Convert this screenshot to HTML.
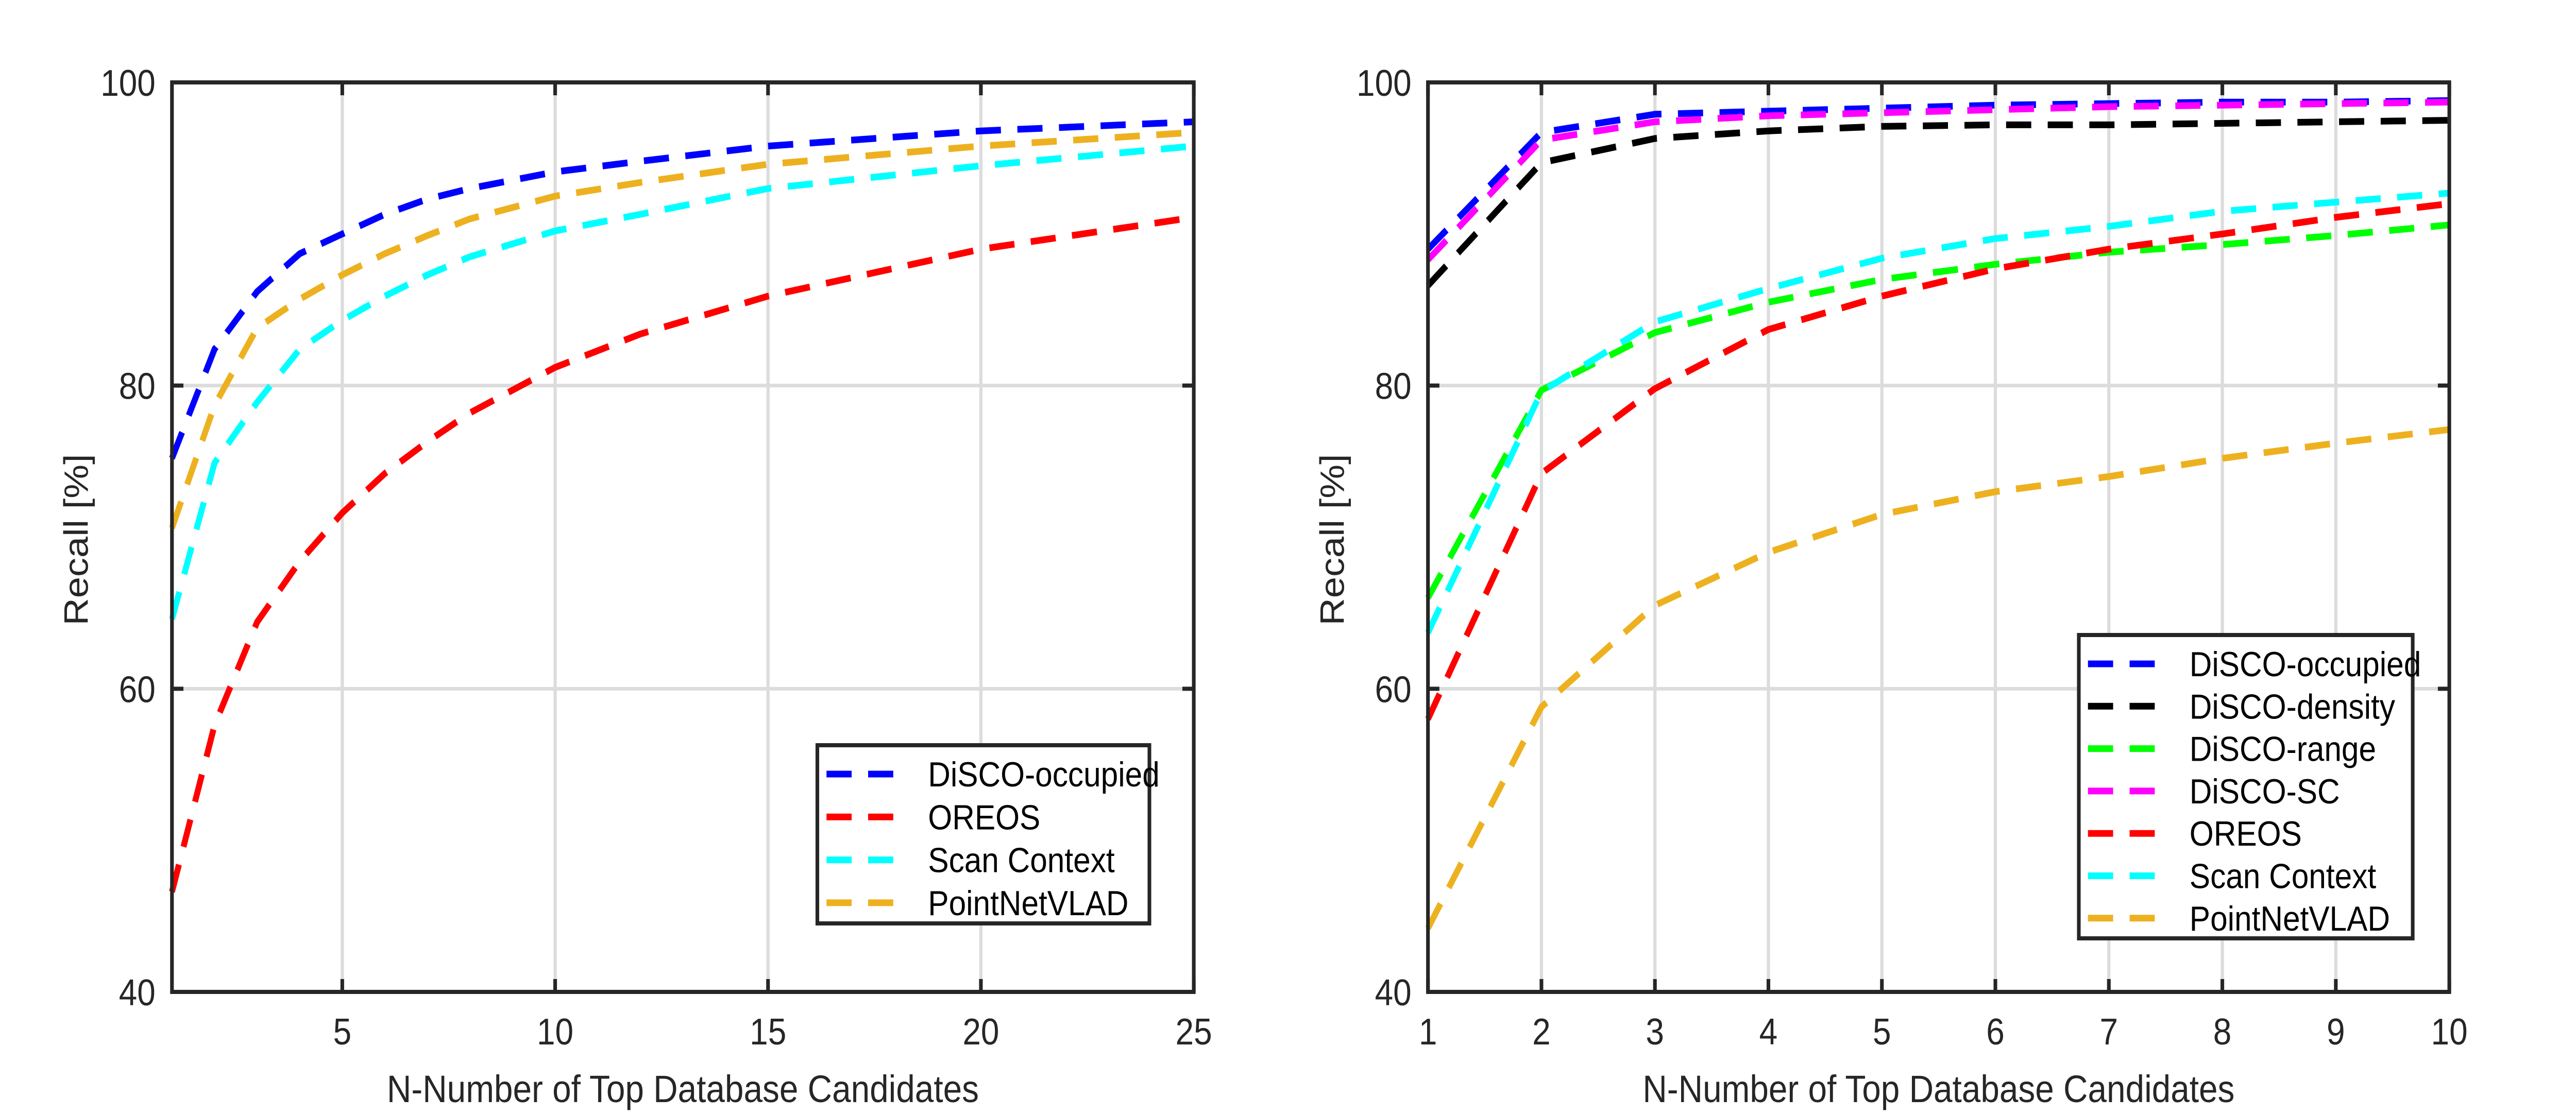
<!DOCTYPE html>
<html><head><meta charset="utf-8"><style>
html,body{margin:0;padding:0;background:#fff;width:100vw;height:100vh;overflow:hidden;}
svg{display:block;position:fixed;left:0;top:0;width:100vw;height:100vh;font-family:"Liberation Sans",Arial,sans-serif;}
</style></head><body>
<svg id="fig" viewBox="0 0 5632 2165" preserveAspectRatio="none" xmlns="http://www.w3.org/2000/svg"></svg>
<script>
// ---- Left chart data ----
const leftX = [1,2,3,4,5,6,7,8,10,12,15,20,25];
const leftDisco = [75.2,82.4,86.2,88.7,90,91.3,92.3,93,94.1,94.8,95.8,96.8,97.4];
const leftOreos = [46.6,57.6,64.4,68.4,71.6,74.2,76.3,78.2,81.2,83.4,85.9,89,91.1];
const leftScan = [64.6,74.9,78.9,82.4,84.3,85.9,87.3,88.5,90.2,91.3,93,94.5,95.8];
const leftPnv = [70.6,78.7,83.8,85.7,87.3,88.7,89.9,91,92.5,93.4,94.6,95.8,96.7];
const leftXTicks = [5,10,15,20,25];
const yTicks = [40,60,80,100];
// ---- Right chart data ----
const rightX = [1,2,3,4,5,6,7,8,9,10];
const rightOcc = [89,96.7,97.9,98.1,98.3,98.5,98.6,98.7,98.7,98.8];
const rightDen = [86.6,94.7,96.3,96.8,97.1,97.2,97.2,97.3,97.4,97.5];
const rightRange = [66,79.7,83.5,85.5,87,88,88.8,89.3,89.9,90.6];
const rightSC = [88.3,96.2,97.4,97.8,98,98.2,98.4,98.5,98.6,98.7];
const rightOreos = [58,74.2,79.8,83.7,85.9,87.7,89,90,91.1,92];
const rightScan = [63.7,79.6,84.2,86.4,88.4,89.7,90.5,91.5,92.1,92.7];
const rightPnv = [44.2,58.8,65.5,69,71.5,73,74,75.2,76.2,77.1];
const rightXTicks = [1,2,3,4,5,6,7,8,9,10];

const NS='http://www.w3.org/2000/svg';
const svg=document.getElementById('fig');
function mk(tag,attrs,parent){const e=document.createElementNS(NS,tag);for(const k in attrs)e.setAttribute(k,attrs[k]);(parent||svg).appendChild(e);return e;}

function chart(cfg){
  const g=mk('g',{});
  
  
  const L=cfg.left,R=cfg.right,T=160,B=1926;
  const sx=v=>L+(v-cfg.xmin)/(cfg.xmax-cfg.xmin)*(R-L);
  const sy=v=>B-(v-40)/60*(B-T);
  cfg.xticks.forEach(t=>{ if(t>cfg.xmin&&t<cfg.xmax){const l=mk('line',{x1:sx(t),x2:sx(t),y1:T,y2:B,stroke:'#dcdcdc','stroke-width':7},g);
    
    }});
  yTicks.forEach(t=>{ if(t>40&&t<100){const l=mk('line',{x1:L,x2:R,y1:sy(t),y2:sy(t),stroke:'#dcdcdc','stroke-width':7},g);
    
    }});
  cfg.series.forEach(s=>{
    const d=cfg.x.map((v,i)=>(i?'L':'M')+sx(v).toFixed(1)+' '+sy(s.v[i]).toFixed(1)).join(' ');
    const p=mk('path',{d:d,fill:'none',stroke:s.c,'stroke-width':13,'stroke-dasharray':'55 36','stroke-linejoin':'round'},g);
    
    
  });
  cfg.xticks.forEach(t=>{
    [[B,B-25],[T,T+25]].forEach(a=>{mk('line',{x1:sx(t),x2:sx(t),y1:a[0],y2:a[1],stroke:'#262626','stroke-width':8},g);});
    const tx=mk('text',{x:sx(t),y:2028,'font-size':72,fill:'#262626','text-anchor':'middle'},g);
    tx.textContent=t;
    
    
  });
  yTicks.forEach(t=>{
    [[L,L+25],[R,R-25]].forEach(a=>{mk('line',{x1:a[0],x2:a[1],y1:sy(t),y2:sy(t),stroke:'#262626','stroke-width':8},g);});
    const tx=mk('text',{x:L-36,y:sy(t)+26,'font-size':72,fill:'#262626','text-anchor':'end'},g);
    tx.textContent=t;
    
    
  });
  const box=mk('rect',{x:L,y:T,width:R-L,height:B-T,fill:'none',stroke:'#262626','stroke-width':8},g);
  
  
  const xt=mk('text',{x:(L+R)/2,y:2140,'font-size':74,fill:'#262626','text-anchor':'middle'},g);
  xt.textContent='N-Number of Top Database Candidates';
  
  
  const yt=mk('text',{x:0,y:0,'font-size':74,fill:'#262626','text-anchor':'middle',transform:'translate('+(cfg.ytx)+',1048) rotate(-90)'},g);
  yt.textContent='Recall [%]';
  
  
  const lg=mk('g',{},g);
  
  
  mk('rect',{x:cfg.lg[0],y:cfg.lg[1],width:cfg.lg[2],height:cfg.lg[3],fill:'#fff',stroke:'#262626','stroke-width':8},lg);
  cfg.series.forEach((s,i)=>{
    const y=cfg.lgY0+i*cfg.lgStep;
    const e=mk('g',{},lg);
    
    
    mk('line',{x1:cfg.lg[0]+20,x2:cfg.lg[0]+182,y1:y,y2:y,stroke:s.c,'stroke-width':13,'stroke-dasharray':'55 36'},e);
    const t=mk('text',{x:cfg.lg[0]+242,y:y+24,'font-size':68,fill:'#000'},e);
    t.textContent=s.label;
  });
}
chart({name:'left-chart',left:376,right:2610,xmin:1,xmax:25,x:leftX,xticks:leftXTicks,ytx:192,
  lg:[1787,1447,726,346],lgY0:1503,lgStep:83.3,
  series:[{id:'disco-occupied',label:'DiSCO-occupied',c:'#0000ff',v:leftDisco},
          {id:'oreos',label:'OREOS',c:'#ff0000',v:leftOreos},
          {id:'scan-context',label:'Scan Context',c:'#00ffff',v:leftScan},
          {id:'pointnetvlad',label:'PointNetVLAD',c:'#edb120',v:leftPnv}]});
chart({name:'right-chart',left:3122,right:5355,xmin:1,xmax:10,x:rightX,xticks:rightXTicks,ytx:2938,
  lg:[4545,1233,730,589],lgY0:1289,lgStep:82.3,
  series:[{id:'disco-occupied',label:'DiSCO-occupied',c:'#0000ff',v:rightOcc},
          {id:'disco-density',label:'DiSCO-density',c:'#000000',v:rightDen},
          {id:'disco-range',label:'DiSCO-range',c:'#00ff00',v:rightRange},
          {id:'disco-sc',label:'DiSCO-SC',c:'#ff00ff',v:rightSC},
          {id:'oreos',label:'OREOS',c:'#ff0000',v:rightOreos},
          {id:'scan-context',label:'Scan Context',c:'#00ffff',v:rightScan},
          {id:'pointnetvlad',label:'PointNetVLAD',c:'#edb120',v:rightPnv}]});
</script>
</body></html>
